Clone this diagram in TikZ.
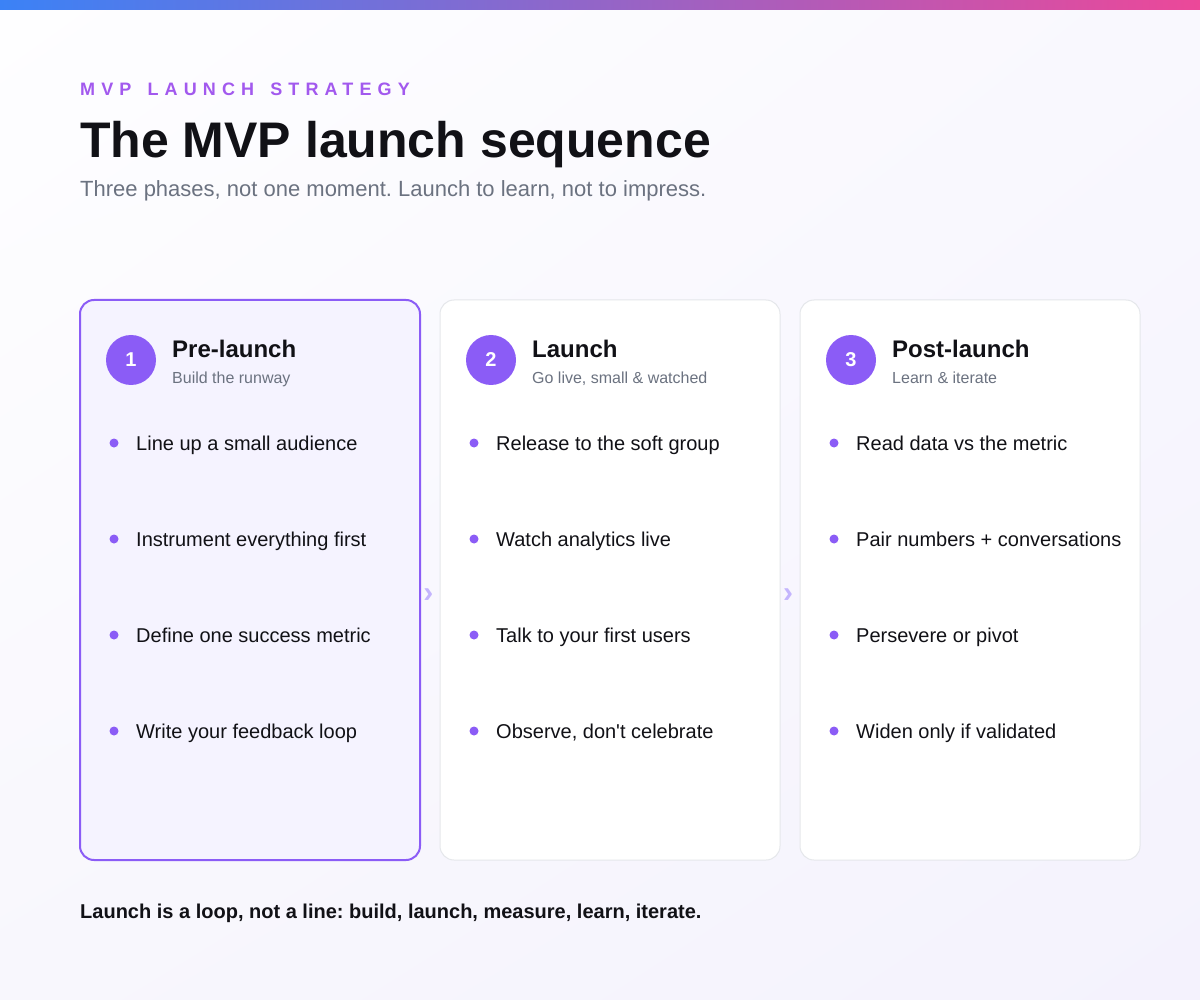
\documentclass[tikz,border=0pt]{standalone}
\usepackage{fontspec}
\setmainfont{Liberation Sans}
\newfontfamily\kickerfont[LetterSpace=34]{Liberation Sans}
\usetikzlibrary{calc,shadings}

\definecolor{bgtl}{HTML}{FEFEFF}
\definecolor{bgtr}{HTML}{F9F8FE}
\definecolor{bgbl}{HTML}{F8F7FD}
\definecolor{bgbr}{HTML}{F4F2FD}
\definecolor{barblue}{HTML}{3B82F6}
\definecolor{barviolet}{HTML}{8B5CF6}
\definecolor{barpink}{HTML}{EC4899}
\definecolor{kicker}{HTML}{A259EE}
\definecolor{ink}{HTML}{111116}
\definecolor{muted}{HTML}{6B7280}
\definecolor{violet5}{HTML}{8B5CF6}
\definecolor{violet0}{HTML}{F5F3FF}
\definecolor{cardline}{HTML}{E5E7EB}
\definecolor{chevron}{HTML}{C4B5FD}

\begin{document}
\frenchspacing
\begin{tikzpicture}[x=1pt, y=-1pt,
    phasecard/.style={draw=cardline, line width=1pt, fill=white, rounded corners=14pt,
        minimum width=340pt, minimum height=560pt, inner sep=0pt},
    activecard/.style={phasecard, draw=violet5, line width=2pt, fill=violet0},
    badge/.style={circle, fill=violet5, minimum size=50pt, inner sep=0pt, text=white,
        font=\fontsize{20}{20}\selectfont\bfseries},
    phasetitle/.style={anchor=base west, inner sep=0pt, text=ink,
        font=\fontsize{24}{28}\selectfont\bfseries},
    phasesub/.style={anchor=base west, inner sep=0pt, text=muted,
        font=\fontsize{16}{19}\selectfont},
    dot/.style={circle, fill=violet5, minimum size=9pt, inner sep=0pt},
    item/.style={anchor=base west, inner sep=0pt, text=ink,
        font=\fontsize{20}{24}\selectfont},
    chev/.style={inner sep=0pt, text=chevron, font=\fontsize{30}{32}\selectfont\bfseries}]

    % background and top bar
    \shade[upper left=bgtl, upper right=bgtr, lower left=bgbl, lower right=bgbr] (0,0) rectangle (1200,1000);
    \shade[left color=barblue, middle color=barviolet, right color=barpink] (0,0) rectangle (1200,10);
    \useasboundingbox (0,0) rectangle (1200,1000);

    % header
    \node[anchor=base west, inner sep=0pt, text=kicker, font=\kickerfont\fontsize{18}{20}\selectfont\bfseries]
        (kicker) at (80,96) {MVP\hspace{5pt} LAUNCH\hspace{5pt} STRATEGY};
    \node[anchor=base west, inner sep=0pt, text=ink, font=\fontsize{50}{56}\selectfont\bfseries]
        (title) at (80,158) {The MVP launch sequence};
    \node[anchor=base west, inner sep=0pt, text=muted, font=\fontsize{22}{26}\selectfont]
        (subtitle) at (80,197) {Three phases, not one moment. Launch to learn, not to impress.};

    % the three phase cards
    \node[activecard] (pre) at (250,580) {};
    \node[phasecard] (live) at (610,580) {};
    \node[phasecard] (post) at (970,580) {};

    % chevrons between cards
    \node[chev] (gap1) at ($(pre.east)!0.5!(live.west)+(-2,16)$) {›};
    \node[chev] (gap2) at ($(live.east)!0.5!(post.west)+(-2,16)$) {›};

    % card heads
    \node[badge] (b1) at (131,360) {1};
    \node[phasetitle] (t1) at (172,358) {Pre-launch};
    \node[phasesub] (s1) at (172,384) {Build the runway};

    \node[badge] (b2) at (491,360) {2};
    \node[phasetitle] (t2) at (532,358) {Launch};
    \node[phasesub] (s2) at (532,384) {Go live, small \& watched};

    \node[badge] (b3) at (851,360) {3};
    \node[phasetitle] (t3) at (892,358) {Post-launch};
    \node[phasesub] (s3) at (892,384) {Learn \& iterate};

    % bullet lists
    \foreach \txt [count=\i] in {Line up a small audience, Instrument everything first,
            Define one success metric, Write your feedback loop} {
        \node[dot] (d1\i) at (114,{347+96*\i}) {};
        \node[item] (p1\i) at (136,{354+96*\i}) {\txt};
    }
    \foreach \txt [count=\i] in {Release to the soft group, Watch analytics live,
            Talk to your first users, {Observe, don\textquotesingle t celebrate}} {
        \node[dot] (d2\i) at (474,{347+96*\i}) {};
        \node[item] (p2\i) at (496,{354+96*\i}) {\txt};
    }
    \foreach \txt [count=\i] in {Read data vs the metric, Pair numbers + conversations,
            Persevere or pivot, Widen only if validated} {
        \node[dot] (d3\i) at (834,{347+96*\i}) {};
        \node[item] (p3\i) at (856,{354+96*\i}) {\txt};
    }

    % footer
    \node[anchor=base west, inner sep=0pt, text=ink, font=\fontsize{20}{24}\selectfont\bfseries]
        (moral) at (80,918) {Launch is a loop, not a line: build, launch, measure, learn, iterate.};
\end{tikzpicture}
\end{document}
